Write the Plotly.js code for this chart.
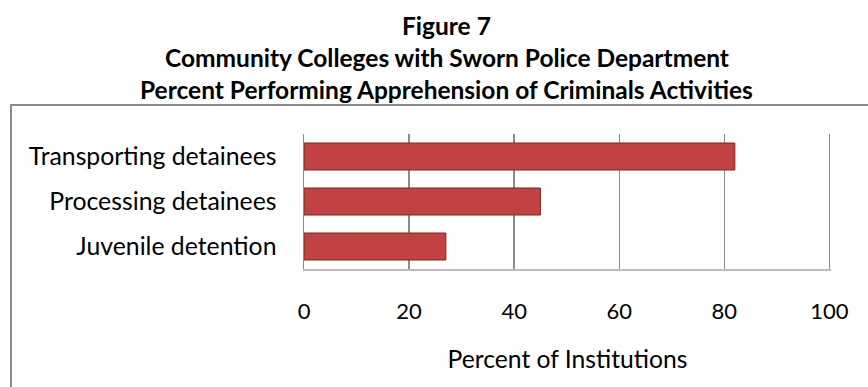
<!DOCTYPE html>
<html>
<head>
<meta charset="utf-8">
<script src="https://cdn.plot.ly/plotly-3.0.1.min.js"></script>
<style>
html,body{margin:0;padding:0;background:#fff;}
#wrap{position:relative;width:868px;height:387px;overflow:hidden;}
#frame{position:absolute;left:10px;top:104px;width:870px;height:400px;border-left:2px solid #8a8a8a;border-top:2px solid #8a8a8a;pointer-events:none;}
#chart{position:absolute;left:0;top:0;width:868px;height:387px;}
</style>
</head>
<body>
<div id="wrap">
<div id="chart"></div>
<div id="frame"></div>
</div>
<script>
const categories = ["Juvenile detention", "Processing detainees", "Transporting detainees"];
const values = [27, 45, 82];
const xTicks = [0, 20, 40, 60, 80, 100];
const titleLines = ["Figure 7", "Community Colleges with Sworn Police Department", "Percent Performing Apprehension of Criminals Activities"];
const xTitle = "Percent of Institutions";

const font = "Lato, 'Open Sans', sans-serif";

const trace = {
  type: "bar",
  orientation: "h",
  y: categories,
  x: values,
  width: 0.6,
  marker: {color: "#c04242", line: {color: "#7e2424", width: 1}},
  hoverinfo: "x+y"
};

// title lines as annotations (paper coords relative to plot area)
const plotTop = 134, plotH = 135;
const titleCenters = [25, 57, 89];
const annotations = titleLines.map((t, i) => ({
  text: "<b>" + t + "</b>",
  xref: "paper", yref: "paper",
  x: (446 - 304) / 525, xanchor: "center",
  y: (plotTop + plotH - titleCenters[i]) / plotH, yanchor: "middle",
  showarrow: false,
  font: {family: font, size: 24.5, color: "#000"}
}));

const layout = {
  width: 868, height: 387,
  margin: {l: 304, r: 37, t: 134, b: 118},
  paper_bgcolor: "#fff", plot_bgcolor: "#fff",
  showlegend: false,
  font: {family: font, color: "#000"},
  annotations: annotations,
  xaxis: {
    range: [0, 100.3],
    tickvals: xTicks,
    ticktext: xTicks.map(String),
    showgrid: true, gridcolor: "#8c8c8c", gridwidth: 1.5,
    zeroline: false,
    showline: true, linecolor: "#bdbdbd", linewidth: 2,
    ticks: "", ticklabelstandoff: 22,
    tickfont: {family: font, size: 22, color: "#000"},
    title: {text: xTitle, font: {family: font, size: 24.7, color: "#000"}, standoff: 27}
  },
  yaxis: {
    showgrid: false, zeroline: false,
    showline: true, linecolor: "#8c8c8c", linewidth: 1.5,
    ticks: "", ticklabelstandoff: 21,
    tickfont: {family: font, size: 24.8, color: "#000"}
  },
  bargap: 0.4
};

Plotly.newPlot("chart", [trace], layout, {displayModeBar: false, staticPlot: true});
</script>
</body>
</html>
